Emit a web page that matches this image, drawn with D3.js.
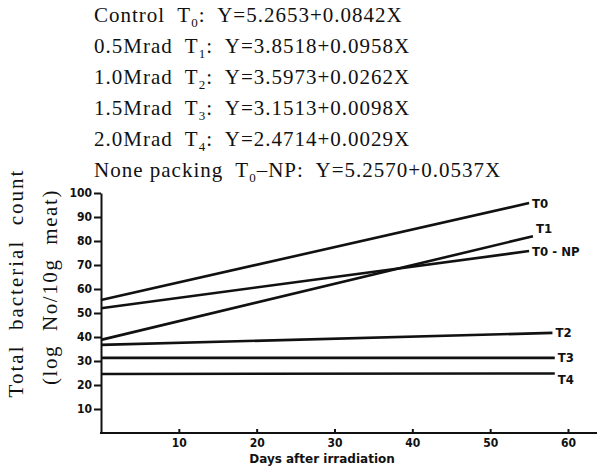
<!DOCTYPE html>
<html>
<head>
<meta charset="utf-8">
<script src="https://cdn.jsdelivr.net/npm/d3@7"></script>
<style>
  body { margin: 0; background: #fff; }
  svg { display: block; }
  .eq { font-family: "Liberation Serif", serif; font-size: 21px; letter-spacing: 1px; fill: #111; white-space: pre; }
  .ytitle { font-family: "Liberation Serif", serif; font-size: 21px; fill: #111; white-space: pre; }
  .axis text { font-family: "DejaVu Sans Condensed", "DejaVu Sans", sans-serif; font-weight: bold; font-size: 12px; fill: #111; }
  .axis path, .axis line { stroke: #111; stroke-width: 2; }
  .lbl { font-family: "DejaVu Sans Condensed", "DejaVu Sans", sans-serif; font-weight: bold; font-size: 13px; fill: #111; }
  .xtitle { font-family: "DejaVu Sans", sans-serif; font-weight: bold; font-size: 12px; fill: #111; }
</style>
</head>
<body>
<svg width="597" height="467"></svg>
<script>
// regression equations printed above the plot
var eqNames   = ["Control", "0.5Mrad", "1.0Mrad", "1.5Mrad", "2.0Mrad", "None packing"];
var eqSubs    = ["0", "1", "2", "3", "4", "0"];
var eqSuffix  = ["", "", "", "", "", "\u2013NP"];
var eqA       = ["5.2653", "3.8518", "3.5973", "3.1513", "2.4714", "5.2570"];
var eqB       = ["0.0842", "0.0958", "0.0262", "0.0098", "0.0029", "0.0537"];

// fitted lines as drawn in the figure
var series    = ["T0", "T1", "T0 - NP", "T2", "T3", "T4"];
var startDay  = [0, 0, 0, 0, 0, 0];
var endDay    = [55, 55.5, 55, 58, 58.3, 58.3];
var startVal  = [55.4, 38.8, 52, 36.7, 31.3, 24.6];
var endVal    = [95.8, 82, 75.8, 41.7, 31.3, 24.8];

var xTicks    = [10, 20, 30, 40, 50, 60];
var yTicks    = [10, 20, 30, 40, 50, 60, 70, 80, 90, 100];

;(function(){

    var svg = d3.select("svg"),
        margin = {top: 193, right: 568, bottom: 433, left: 101};

    var x = d3.scaleLinear().domain([0, 60]).range([margin.left, margin.right]);
    var y = d3.scaleLinear().domain([0, 100]).range([margin.bottom, margin.top]);

    // equations
    var eq = svg.append("g");
    eqNames.forEach(function(n, i){
        var t = eq.append("text")
            .attr("class", "eq")
            .attr("x", 94)
            .attr("y", 22 + i * 31);
        t.append("tspan").text(n + "  T");
        t.append("tspan").attr("font-size", "13px").attr("dy", 5).text(eqSubs[i]);
        t.append("tspan").attr("dy", -5).text(eqSuffix[i] + ":  Y=" + eqA[i] + "+" + eqB[i] + "X");
    });

    // axes
    var xAxis = d3.axisBottom(x)
        .tickValues(xTicks)
        .tickSizeInner(-4)
        .tickSizeOuter(0)
        .tickPadding(5);

    var gx = svg.append("g")
        .attr("class", "axis")
        .attr("transform", "translate(0," + margin.bottom + ")")
        .call(xAxis);
    gx.select(".domain").remove();
    gx.append("line")// axis line runs on to the page edge
        .attr("x1", x(0) - 1).attr("x2", x(64))
        .attr("y1", 0).attr("y2", 0);

    var yAxis = d3.axisLeft(y)
        .tickValues(yTicks)
        .tickSizeInner(7)
        .tickSizeOuter(0)
        .tickPadding(2);

    svg.append("g")
        .attr("class", "axis")
        .attr("transform", "translate(" + margin.left + ",0)")
        .call(yAxis);

    // lines
    var line = d3.line()
        .x(function(d){ return x(d[0]); })
        .y(function(d){ return y(d[1]); });

    var labelShift = {"T1": -8, "T4": 6};

    series.forEach(function(s, i){
        var pts = [[startDay[i], startVal[i]], [endDay[i], endVal[i]]];
        svg.append("path")
            .datum(pts)
            .attr("fill", "none")
            .attr("stroke", "#111")
            .attr("stroke-width", 2.6)
            .attr("d", line);

        svg.append("text")
            .attr("class", "lbl")
            .attr("x", x(endDay[i]) + 3)
            .attr("y", y(endVal[i]) + (labelShift[s] || 0))
            .attr("dy", ".35em")
            .text(s);
    });

    // axis titles
    svg.append("text")
        .attr("class", "ytitle")
        .attr("letter-spacing", 2)
        .attr("transform", "translate(23,283) rotate(-90)")
        .attr("text-anchor", "middle")
        .text("Total  bacterial  count");

    svg.append("text")
        .attr("class", "ytitle")
        .attr("letter-spacing", 1.6)
        .attr("transform", "translate(57,287) rotate(-90)")
        .attr("text-anchor", "middle")
        .text("(log  No/10g  meat)");

    svg.append("text")
        .attr("class", "xtitle")
        .attr("x", 322)
        .attr("y", 463)
        .attr("text-anchor", "middle")
        .text("Days after irradiation");
}());
</script>
</body>
</html>
